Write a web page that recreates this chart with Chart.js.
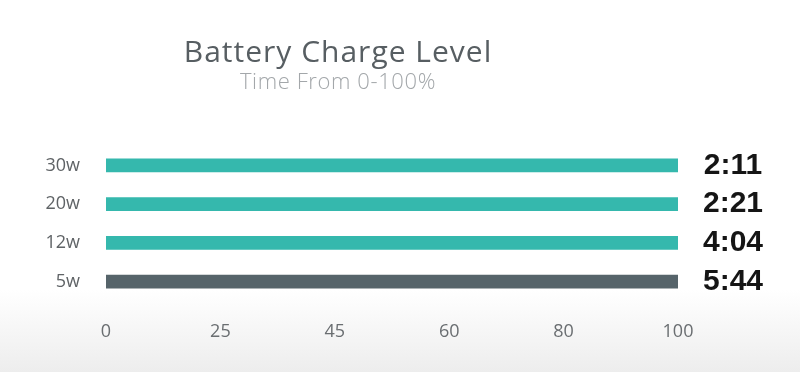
<!DOCTYPE html>
<html>
<head>
<meta charset="utf-8">
<script src="https://cdn.jsdelivr.net/npm/chart.js@4"></script>
<style>
  html, body { margin: 0; padding: 0; }
  body {
    width: 800px; height: 372px; overflow: hidden;
    background: linear-gradient(to bottom, #ffffff 0%, #ffffff 78%, #ededed 100%);
  }
  #wrap { position: relative; width: 800px; height: 372px; }
</style>
</head>
<body>
<div id="wrap"><canvas id="chargeChart" width="800" height="372"></canvas></div>
<script>
// data
var chargers = ['30w', '20w', '12w', '5w'];
var chargeLevel = [100, 100, 100, 100];
var chargeTimes = ['2:11', '2:21', '4:04', '5:44'];
var xTickLabels = ['0', '25', '45', '60', '80', '100'];
var barColors = ['#35b8ad', '#35b8ad', '#35b8ad', '#56646a'];

// titles + the time next to each bar
var textPlugin = {
    id: 'textPlugin',
    afterDraw: function (chart) {
        var ctx = chart.ctx;
        ctx.save();
        ctx.textAlign = 'center';
        ctx.textBaseline = 'alphabetic';
        ctx.fillStyle = '#575e62';
        ctx.font = '400 30px "Open Sans"';
        ctx.letterSpacing = '1px';
        ctx.fillText('Battery Charge Level', 338, 62);
        ctx.fillStyle = '#a3a7aa';
        ctx.font = '300 22px "Open Sans"';
        ctx.letterSpacing = '0.6px';
        ctx.fillText('Time From 0-100%', 338, 89);
        ctx.letterSpacing = '0px';

        var meta = chart.getDatasetMeta(0);
        ctx.fillStyle = '#151515';
        ctx.font = 'bold 30px "Liberation Sans"';
        ctx.textBaseline = 'middle';
        meta.data.forEach(function (bar, i) {
            ctx.fillText(chargeTimes[i], bar.x + 55, bar.y);
        });
        ctx.restore();
    }
};

new Chart(document.getElementById('chargeChart'), {
    type: 'bar',
    data: {
        labels: chargers,
        datasets: [{
            label: 'Charge',
            data: chargeLevel,
            backgroundColor: barColors,
            barThickness: 13,
            borderSkipped: false
        }]
    },
    options: {
        indexAxis: 'y',
        responsive: false,
        animation: false,
        layout: { padding: { top: 146, right: 122, bottom: 11, left: 0 } },
        plugins: {
            legend: { display: false },
            title: { display: false },
            tooltip: { enabled: false }
        },
        scales: {
            x: {
                min: 0,
                max: 100,
                grid: { display: false, drawTicks: false },
                border: { display: false },
                afterFit: function (scale) { scale.height = 60; },
                ticks: {
                    stepSize: 20,
                    padding: 20,
                    color: '#6a6e71',
                    font: { family: 'Open Sans', size: 18 },
                    callback: function (value, index) {
                        return xTickLabels[index];
                    }
                }
            },
            y: {
                grid: { display: false, drawTicks: false },
                border: { display: false },
                afterFit: function (scale) { scale.width = 106; },
                ticks: {
                    padding: 26,
                    color: '#5f6366',
                    font: { family: 'Open Sans', size: 18 }
                }
            }
        }
    },
    plugins: [textPlugin]
});
</script>
</body>
</html>
